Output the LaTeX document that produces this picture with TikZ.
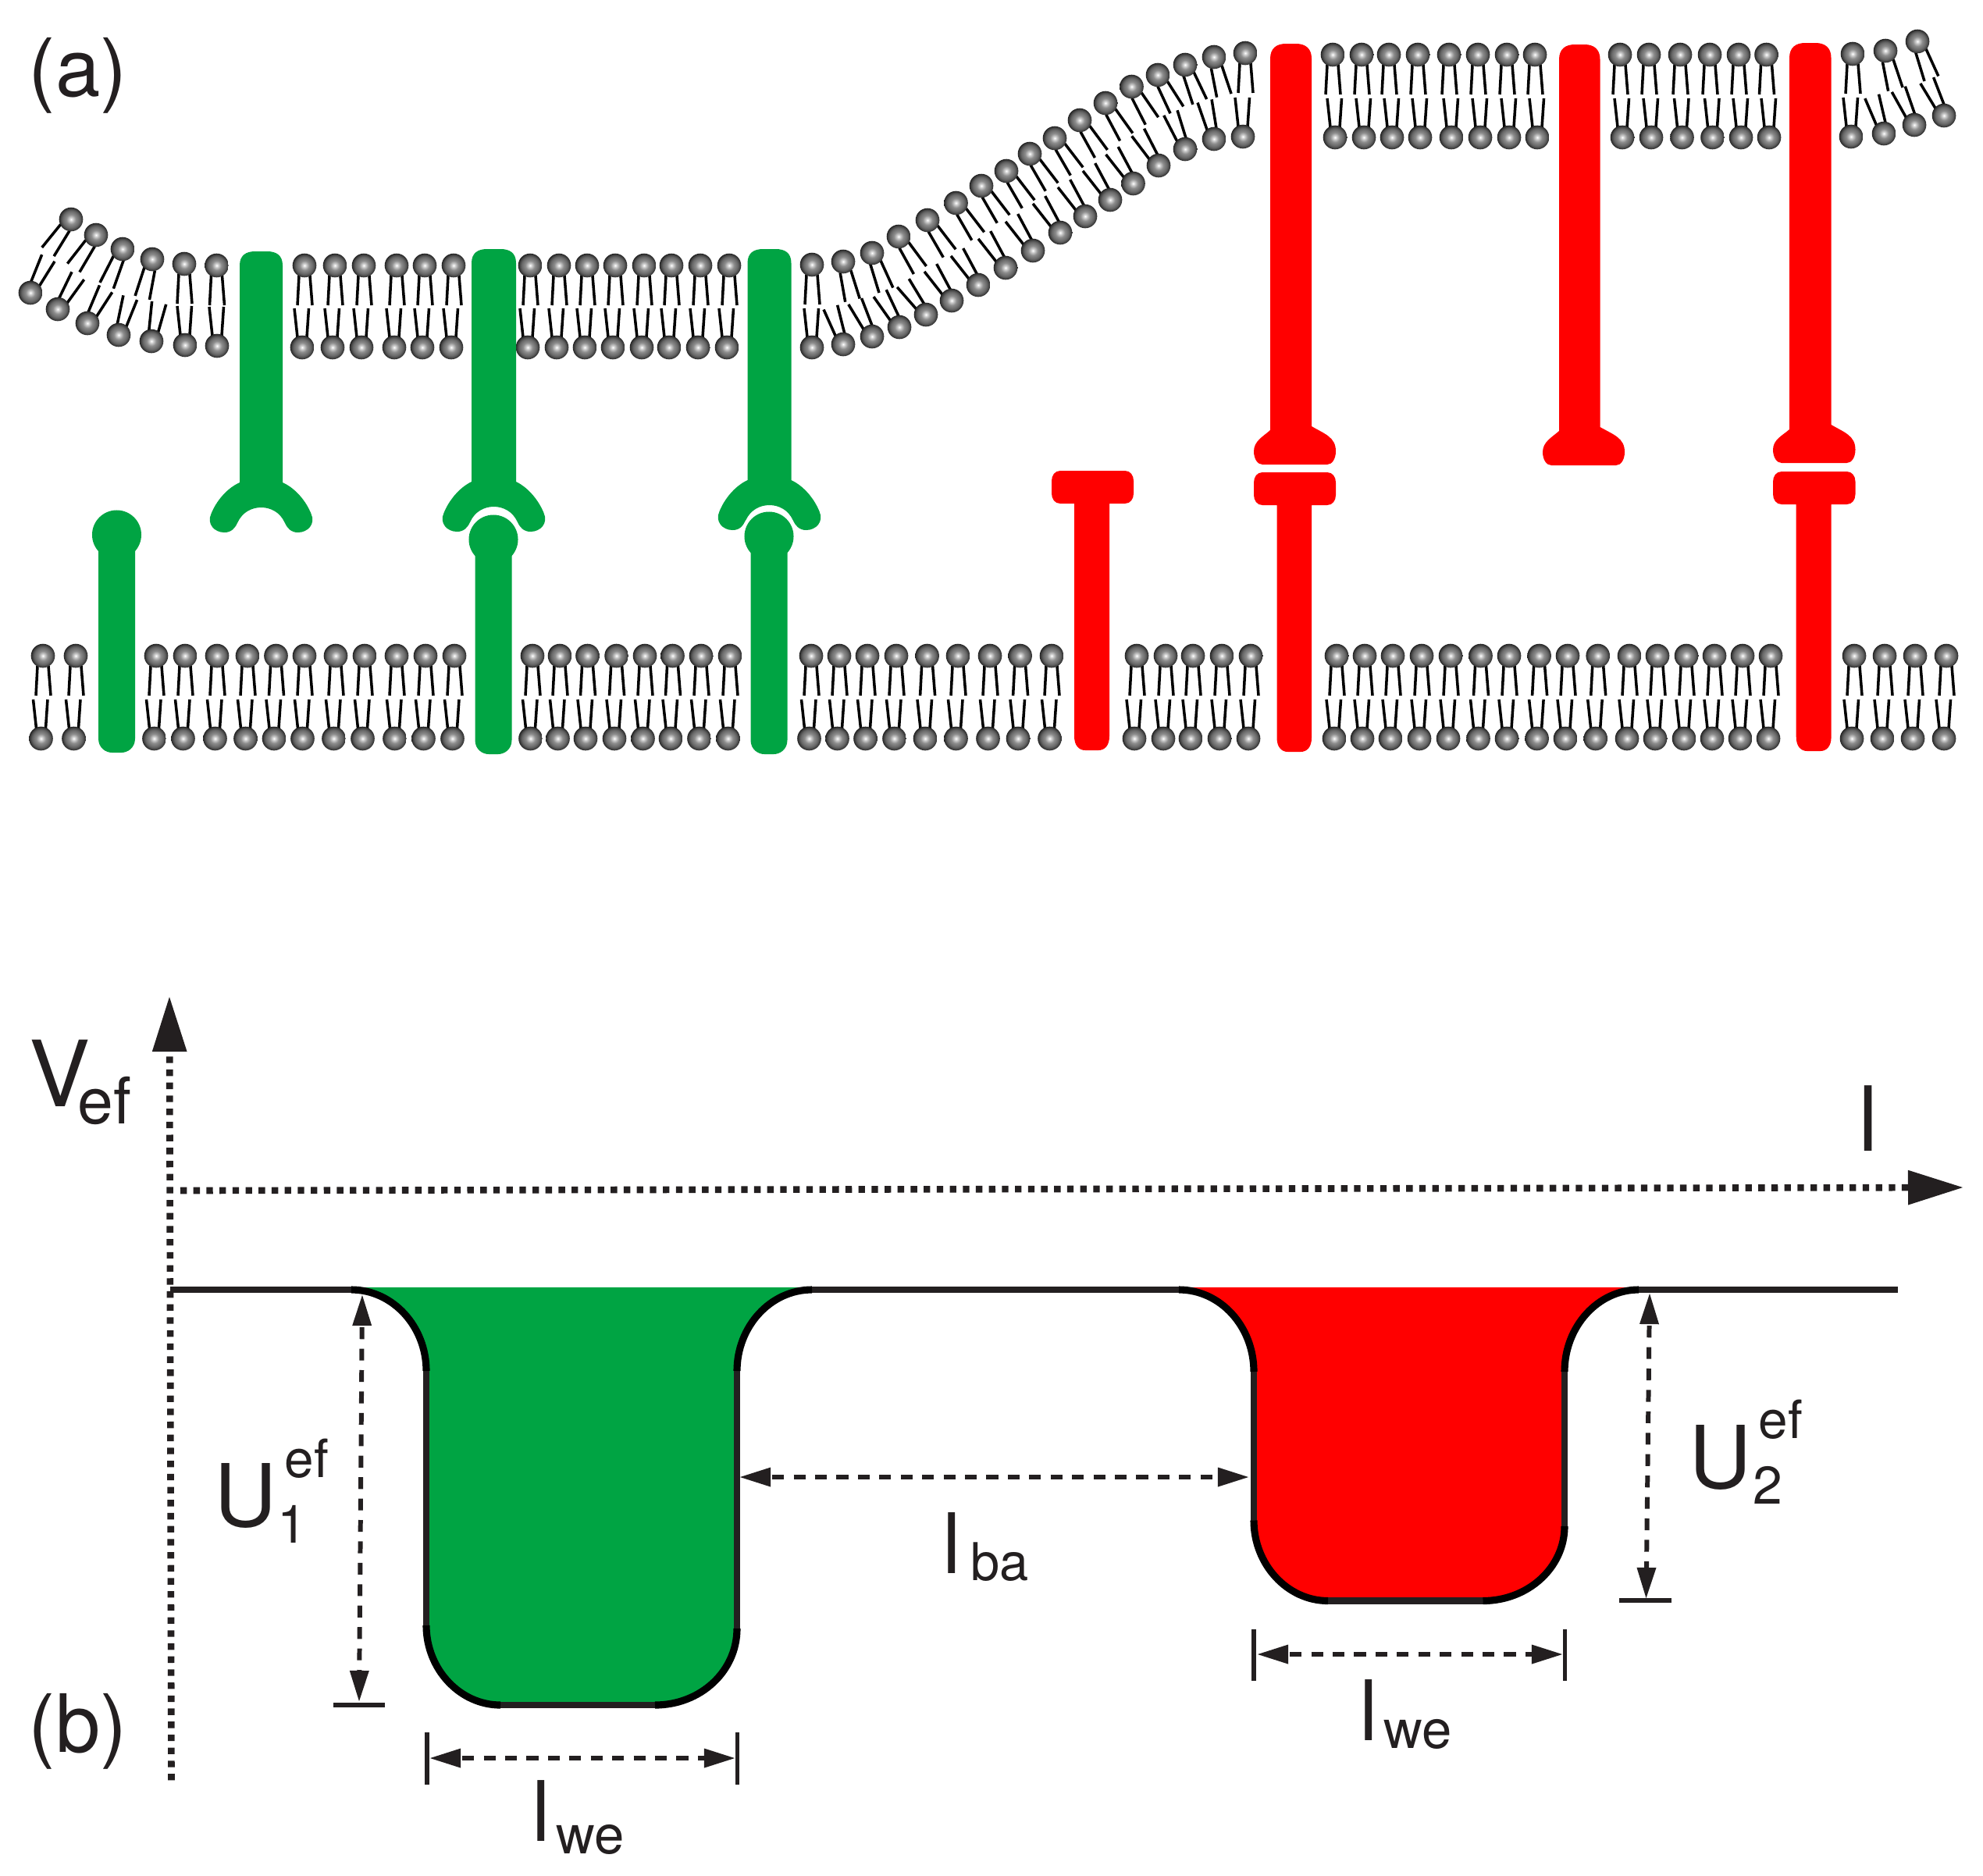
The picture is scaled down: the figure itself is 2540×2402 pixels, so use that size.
\documentclass[tikz,border=0pt]{standalone}
\usepackage{fontspec}
\setmainfont{TeX Gyre Heros}
\usetikzlibrary{arrows.meta}
\definecolor{grn}{HTML}{00A443}
\definecolor{rd}{HTML}{FF0000}
\definecolor{ink}{HTML}{231F20}
\pgfdeclareradialshading{lipidhead}{\pgfpoint{0bp}{0bp}}{%
 rgb(0bp)=(1,1,1);rgb(4bp)=(.8,.8,.8);rgb(10bp)=(.55,.55,.55);rgb(18bp)=(.4,.4,.4);rgb(23bp)=(.23,.23,.23);rgb(25bp)=(.13,.13,.13);rgb(50bp)=(.13,.13,.13)}
\tikzset{
 tailline/.style={line width=1pt,black},
 headball/.style={shading=lipidhead},
 axisline/.style={line width=2.45pt,ink,dash pattern=on 2.37pt off 2.38pt},
 dimline/.style={line width=1.7pt,ink,dash pattern=on 4.3pt off 3.5pt,dash phase=-1pt},
 dimtip/.tip={Triangle[length=11.4pt,width=6.6pt]},
 axtip/.tip={Triangle[length=20.2pt,width=12pt]},
 wellstraight/.style={line width=2.3pt,ink},
 wellcurve/.style={line width=2.6pt,black},
 barline/.style={line width=1.6pt,ink},
 lab/.style={inner sep=0pt,anchor=base west,text=ink},
}
\newcommand\fsz[1]{\fontsize{#1}{#1}\selectfont}
% top head, tails pointing inward
\newcommand\lipT[3]{%
 \pgfmathsetmacro\sn{sin(#3)}\pgfmathsetmacro\cs{cos(#3)}%
 \draw[tailline] ({#1+13*\sn-7*\cs},{#2+13*\cs+7*\sn}) -- ({#1+51*\sn-9*\cs},{#2+51*\cs+9*\sn});
 \draw[tailline] ({#1+13*\sn+7*\cs},{#2+13*\cs-7*\sn}) -- ({#1+51*\sn+10*\cs},{#2+51*\cs-10*\sn});
 \shade[headball] (#1,#2) circle[radius=0.153cm];
}
\newcommand\lipB[3]{%
 \pgfmathsetmacro\sn{sin(#3)}\pgfmathsetmacro\cs{cos(#3)}%
 \draw[tailline] ({#1-13*\sn-6*\cs},{#2-13*\cs+6*\sn}) -- ({#1-50*\sn-10*\cs},{#2-50*\cs+10*\sn});
 \draw[tailline] ({#1-13*\sn+6*\cs},{#2-13*\cs-6*\sn}) -- ({#1-50*\sn+8.5*\cs},{#2-50*\cs-8.5*\sn});
 \shade[headball] (#1,#2) circle[radius=0.153cm];
}
% green receptor with a cup: cx, dy, top, half width
\newcommand\grCup[4]{%
 \begin{scope}[shift={(#1,#2)}]
 \fill[grn] (-#4,620) -- (-#4,{#3-#2+18}) .. controls (-#4,{#3-#2+5}) and ({-#4+8},{#3-#2}) .. ({-#4+20},{#3-#2}) -- ({#4-20},{#3-#2}) .. controls ({#4-8},{#3-#2}) and (#4,{#3-#2+5}) .. (#4,{#3-#2+18}) -- (#4,620)
 .. controls (45,628) and (58,645) .. (64,660) .. controls (70,673) and (60,684) .. (47,684) .. controls (38,684) and (33,678) .. (30,671) .. controls (24,658) and (12,652) .. (0,652)
 .. controls (-12,652) and (-24,658) .. (-30,671) .. controls (-33,678) and (-38,684) .. (-47,684) .. controls (-60,684) and (-70,673) .. (-64,660) .. controls (-58,645) and (-45,628) .. (-#4,620) -- cycle;
 \end{scope}}
% green lollipop: cx, ball y, bottom
\newcommand\grBall[3]{%
 \fill[grn] ({#1-23.5},{#2+15}) -- ({#1-23.5},{#3-18}) .. controls ({#1-23.5},{#3-6}) and ({#1-14},#3) .. ({#1-6},#3) -- ({#1+6},#3) .. controls ({#1+14},#3) and ({#1+23.5},{#3-6}) .. ({#1+23.5},{#3-18}) -- ({#1+23.5},{#2+15}) -- cycle;
 \fill[grn] (#1,#2) circle[radius=0.315cm];}
% red upper receptor: rodL rodR kL kR shL shR yb top
\newcommand\redKnob[8]{%
 \fill[rd] (#1,{#8+19}) .. controls (#1,{#8+6}) and ({#1+8},#8) .. ({#1+20},#8) -- ({#2-20},#8) .. controls ({#2-8},#8) and (#2,{#8+6}) .. (#2,{#8+19}) -- (#2,#6)
 .. controls ({#4-14},{#6+10}) and (#4,{#7-35}) .. (#4,{#7-17}) .. controls (#4,{#7-7}) and ({#4-5},#7) .. ({#4-11},#7) -- ({#3+11},#7) .. controls ({#3+5},#7) and (#3,{#7-7}) .. (#3,{#7-17}) .. controls (#3,{#7-30}) and ({#3+12},{#5+8}) .. (#1,#5) -- cycle;}
% red lower receptor: kL kR ytop yh rodL rodR bottom
\newcommand\redT[7]{%
 \fill[rd] ({#1+11},#3) -- ({#2-11},#3) .. controls ({#2-4},#3) and (#2,{#3+6}) .. (#2,{#3+13}) -- (#2,{#4-13}) .. controls (#2,{#4-6}) and ({#2-4},#4) .. ({#2-11},#4) -- (#6,#4) -- (#6,{#7-18}) .. controls (#6,{#7-6}) and ({#6-6},#7) .. ({#6-14},#7) -- ({#5+14},#7) .. controls ({#5+6},#7) and (#5,{#7-6}) .. (#5,{#7-18}) -- (#5,#4) -- ({#1+11},#4) .. controls ({#1+4},#4) and (#1,{#4-6}) .. (#1,{#4-13}) -- (#1,{#3+13}) .. controls (#1,{#3+6}) and ({#1+4},#3) .. ({#1+11},#3) -- cycle;}
\begin{document}
\begin{tikzpicture}[x=0.01cm,y=-0.01cm]
\useasboundingbox (0,0) rectangle (2540,2402);
\fill[white] (0,0) rectangle (2540,2402);
% ---------- upper membrane
\foreach \x/\y/\t in {91/281/-36,123/301/-35,157/319/-24,195/332/-15,236/338/0,277.5/340/0} {\lipT{\x}{\y}{\t}}
\foreach \x/\y/\t in {39/375/-28,74/396/-32,112/414/-29,152/429/-18,194/437/-12,237/442/0,278/443/0} {\lipB{\x}{\y}{\t}}
\foreach \x in {390,429,466,508,544,581,679,716,752,788,825,860,897,934} {\lipT{\x}{340}{0}}
\foreach \x in {387,426,463,505,541,578,676,713,749,785,822,857,894,931} {\lipB{\x}{445}{0}}
\foreach \x/\y/\t in {1040/339/0,1080/335/13,1117/324/20,1151/303/32,1188/282/33,1224.5/260/33,1257/238/33,1289/219/33,1319/197/33,1351/177/33,1383/154/32,1416/132/31,1449.5/111/30,1483/96/28,1518/83/21,1555/73/14,1595/68/0} {\lipT{\x}{\y}{\t}}
\foreach \x/\y/\t in {1040/445/0,1080/441/18,1117/431/25,1152/419/29,1186/403/35,1219/385/32,1253/365/32,1288/343/32,1323/321/32,1358/298/32,1390/277/32,1422/256/32,1451.5/235/32,1484/212/31,1518/191/21,1555/178/13,1592/175/0} {\lipB{\x}{\y}{\t}}
\foreach \x in {1707,1744,1779,1816,1856,1893,1930,1966,2075,2112,2152,2190,2227,2262.5} {\lipT{\x}{70}{0}}
\foreach \x in {1710,1747,1783,1819,1859,1896,1933,1969,2078,2115,2154.5,2193.5,2230,2266} {\lipB{\x}{176}{0}}
\foreach \x/\y/\t in {2373/69/0,2415/65/14,2456/53/20} {\lipT{\x}{\y}{\t}}
\foreach \x/\y/\t in {2371/175/0,2413/171/17,2452/160/23,2490/148/25} {\lipB{\x}{\y}{\t}}
% ---------- lower membrane
\foreach \x in {55,97,200,237,278,317,353.5,390,430,467,508,545,582,682,717,752.5,789.6,826,861.5,898,935,1039,1075,1111,1148,1187.6,1227,1268,1306.6,1347,1456,1493,1528,1565,1602,1712,1748,1784,1821,1858,1896.5,1933,1971.6,2008,2046.7,2087,2123,2160,2196,2232,2268,2375,2414,2453,2493} {\lipT{\x}{840}{0}}
\foreach \x in {52.5,94.5,197.5,234.5,275.5,314.5,351,387.5,427.5,464.5,505.5,542.5,579.5,679.5,714.5,750,787,823.5,859,895.5,932.5,1036.5,1072.5,1108.5,1145.5,1185,1224.5,1265.5,1304,1344.5,1453,1490,1525,1562,1599,1709,1745,1781,1818,1855,1893.5,1930,1968.6,2005,2043.7,2084,2120,2157,2193,2229,2265,2372,2411,2450,2490} {\lipB{\x}{946}{0}}
% ---------- green proteins
\grCup{334.5}{-2}{322}{27.5}
\grCup{632.5}{-3}{319}{28.5}
\grCup{985.5}{-5}{319}{28}
\grBall{149.5}{685}{964}
\fill[white] (632,691) circle[radius=0.36cm];
\grBall{632}{691}{966}
\fill[white] (985,687) circle[radius=0.36cm];
\grBall{985}{687}{966}
% ---------- red proteins
\redT{1347}{1452}{603}{645}{1376}{1421}{961}
\redKnob{1627}{1680}{1606}{1711}{551}{546}{595}{56}
\redT{1606}{1711}{605}{647}{1635.5}{1680}{963}
\redKnob{1997}{2049.5}{1976}{2081}{552}{547}{596}{57}
\redKnob{2292}{2345.5}{2271}{2376.5}{550}{544}{593}{55}
\redT{2271}{2376.5}{604}{646}{2300.7}{2345.6}{962}
% ---------- panel labels
\node[lab,font=\fsz{29.3}] (pa) at (36,123) {(a)};
\node[lab,font=\fsz{29.3}] (pb) at (36,2244) {(b)};
% ---------- wells
\fill[grn] (450,1649) -- (1040,1649) .. controls (987,1652) and (944,1699) .. (944,1756) -- (944,2086) .. controls (944,2141) and (897,2184) .. (839,2184) -- (641,2184) .. controls (589,2184) and (546,2138) .. (546,2082) -- (546,1756) .. controls (546,1699) and (503,1652) .. (450,1652) -- cycle;
\fill[rd] (1510,1649) -- (2099,1649) .. controls (2047,1652) and (2004,1699) .. (2004,1757) -- (2004,1955) .. controls (2004,2008) and (1957,2050.5) .. (1899.5,2050.5) -- (1701,2050.5) .. controls (1649,2050.5) and (1606,2004) .. (1606,1947.5) -- (1606,1757) .. controls (1606,1699) and (1563,1652) .. (1510,1652) -- cycle;
\draw[wellstraight] (218,1652) -- (450,1652) (546,1756) -- (546,2082) (944,1756) -- (944,2086) (641,2184) -- (839,2184) (1040,1652) -- (1510,1652) (1606,1757) -- (1606,1947.5) (2004,1757) -- (2004,1955) (1701,2050.5) -- (1899.5,2050.5) (2099,1652) -- (2431,1652);
\draw[wellcurve] (450,1652) .. controls (503,1652) and (546,1699) .. (546,1756)
 (546,2082) .. controls (546,2138) and (589,2184) .. (641,2184)
 (839,2184) .. controls (897,2184) and (944,2141) .. (944,2086)
 (944,1756) .. controls (944,1699) and (987,1652) .. (1040,1652)
 (1510,1652) .. controls (1563,1652) and (1606,1699) .. (1606,1757)
 (1606,1947.5) .. controls (1606,2004) and (1649,2050.5) .. (1701,2050.5)
 (1899.5,2050.5) .. controls (1957,2050.5) and (2004,2008) .. (2004,1955)
 (2004,1757) .. controls (2004,1699) and (2047,1652) .. (2099,1652);
% ---------- axes
\coordinate (vtip) at (217,1276);
\coordinate (vend) at (219.5,2282);
\coordinate (htip) at (2515,1521);
\coordinate (hend) at (231,1525);
\draw[axisline,dash phase=2.37pt,{axtip}-] (vtip) -- (vend);
\draw[axisline,-{axtip}] (hend) -- (htip);
% ---------- dimensions
\coordinate (u1a) at (464,1658); \coordinate (u1b) at (460,2180);
\coordinate (u2a) at (2113,1656); \coordinate (u2b) at (2108.5,2048);
\coordinate (baa) at (947,1892); \coordinate (bab) at (1600,1892);
\coordinate (we1a) at (550,2252); \coordinate (we1b) at (942,2252);
\coordinate (we2a) at (1610,2119); \coordinate (we2b) at (2002,2119);
\draw[dimline,{dimtip}-{dimtip}] (u1a) -- (u1b);
\draw[dimline,{dimtip}-{dimtip}] (u2a) -- (u2b);
\draw[dimline,{dimtip}-{dimtip}] (baa) -- (bab);
\draw[dimline,{dimtip}-{dimtip}] (we1a) -- (we1b);
\draw[dimline,{dimtip}-{dimtip}] (we2a) -- (we2b);
\draw[barline] (427,2184) -- (493,2184) (2074,2050) -- (2141,2050) (547,2219) -- (547,2286) (944.5,2219) -- (944.5,2286) (1606,2087) -- (1606,2153) (2004.5,2087) -- (2004.5,2153);
% ---------- labels
\node[lab,font=\fsz{33.3}] (vl) at (37,1417) {V};
\node[lab,font=\fsz{23.4}] (vs) at (99,1439) {ef};
\node[lab,font=\fsz{32.7}] (xl) at (2380,1474) {l};
\node[lab,font=\fsz{31.6}] (ua) at (274,1955) {U};
\node[lab,font=\fsz{19.2}] (uas) at (364,1892) {ef};
\node[lab,font=\fsz{19.3}] (uab) at (355,1976) {1};
\node[lab,font=\fsz{31.6}] (ub) at (2163,1906) {U};
\node[lab,font=\fsz{19.2}] (ubs) at (2252,1842) {ef};
\node[lab,font=\fsz{19.3}] (ubb) at (2245,1926) {2};
\node[lab,font=\fsz{30.4}] (wa) at (681,2358) {l};
\node[lab,font=\fsz{19.6}] (was) at (712,2374) {we};
\node[lab,font=\fsz{30.4}] (wb) at (1741,2229) {l};
\node[lab,font=\fsz{19.6}] (wbs) at (1772,2239) {we};
\node[lab,font=\fsz{30.4}] (bl) at (1207,2015) {l};
\node[lab,font=\fsz{19}] (bs) at (1243,2024) {ba};
\end{tikzpicture}
\end{document}
